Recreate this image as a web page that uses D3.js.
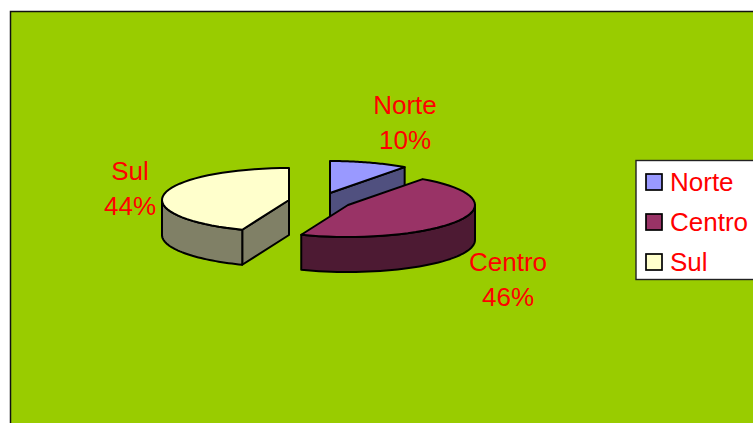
<!DOCTYPE html>
<html><head><meta charset="utf-8">
<script src="https://cdn.jsdelivr.net/npm/d3@7"></script>
<style>html,body{margin:0;padding:0;background:#fff;overflow:hidden}svg{display:block}text{font-family:"Liberation Sans",Arial,sans-serif;fill:#f00}</style>
</head><body><svg id="c" width="753" height="423"></svg>
<script>
const categories = ["Norte", "Centro", "Sul"];
const shares = [10, 46, 44];
const topColors = ["#9999ff", "#993366", "#ffffcc"];
const sideColors = ["#50507f", "#4d1a33", "#808066"];
const centerX = [330, 348, 289];
const centerY = [193, 205, 200];
const labelX = [405, 508, 130];
const labelY = [114, 271, 180];
const rx = 127, ry = 32, depth = 35;

const svg = d3.select("#c");
svg.append("rect").attr("x", 10.5).attr("y", 11.5).attr("width", 800).attr("height", 500)
  .attr("fill", "#99cc00").attr("stroke", "#111").attr("stroke-width", 1.5);

const arcs = d3.pie().sort(null).value(d => d)(shares);
const pt = (i, a, dz = 0) => [centerX[i] + rx * Math.sin(a), centerY[i] - ry * Math.cos(a) + dz];
const sample = (a0, a1) => d3.range(41).map(k => a0 + (a1 - a0) * k / 40);
const line = d3.line();
const quarter = Math.PI / 2, threeQ = 3 * Math.PI / 2;

function drawSlice(i) {
  const { startAngle: s, endAngle: e } = arcs[i];
  const g = svg.append("g").attr("fill", sideColors[i]).attr("stroke", "#000")
    .attr("stroke-width", 2).attr("stroke-linejoin", "round");
  const c = [centerX[i], centerY[i]], cb = [centerX[i], centerY[i] + depth];
  // radial wall facing the viewer
  [s, e].forEach(a => {
    const facing = (a === e && Math.sin(a) > 1e-9) || (a === s && Math.sin(a) < -1e-9);
    if (facing) g.append("path").attr("d", line([c, pt(i, a), pt(i, a, depth), cb]) + "Z");
  });
  // curved outer wall
  const a0 = Math.max(s, quarter), a1 = Math.min(e, threeQ);
  if (a1 > a0) {
    const am = sample(a0, a1);
    g.append("path").attr("d", line([...am.map(a => pt(i, a)), ...am.slice().reverse().map(a => pt(i, a, depth))]) + "Z");
  }
  // top face
  g.append("path").attr("fill", topColors[i])
    .attr("d", line([c, ...sample(s, e).map(a => pt(i, a))]) + "Z");
}
[0, 2, 1].forEach(drawSlice);

categories.forEach((name, i) => {
  const t = svg.append("text").attr("text-anchor", "middle").attr("font-size", 26);
  t.append("tspan").attr("x", labelX[i]).attr("y", labelY[i]).text(name);
  t.append("tspan").attr("x", labelX[i]).attr("y", labelY[i] + 35).text(shares[i] + "%");
});

// legend
svg.append("rect").attr("x", 636).attr("y", 160.5).attr("width", 130).attr("height", 119)
  .attr("fill", "#fff").attr("stroke", "#222").attr("stroke-width", 1.4);
const rowY = d3.scalePoint().domain(categories).range([182, 262]);
categories.forEach((name, i) => {
  svg.append("rect").attr("x", 646).attr("y", rowY(name) - 8).attr("width", 16).attr("height", 16)
    .attr("fill", topColors[i]).attr("stroke", "#000").attr("stroke-width", 1.7);
  svg.append("text").attr("x", 670).attr("y", rowY(name) + 9).attr("font-size", 26).text(name);
});
</script></body></html>
